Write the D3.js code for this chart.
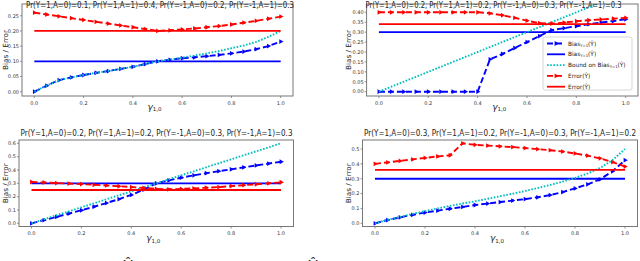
<!DOCTYPE html>
<html>
<head>
<meta charset="utf-8">
<script src="https://cdn.jsdelivr.net/npm/d3@7"></script>
<style>
  body { margin: 0; background: #fff; }
  svg { display: block; font-family: "DejaVu Sans", sans-serif; }
</style>
</head>
<body>
<svg id="chart" width="640" height="261"></svg>
<script>
// gamma_{1,0} grid
const gammas = [0, 0.05, 0.1, 0.15, 0.2, 0.25, 0.3, 0.35, 0.4, 0.45, 0.5,
                0.55, 0.6, 0.65, 0.7, 0.75, 0.8, 0.85, 0.9, 0.95, 1.0];

const titles = [
  "Pr(Y=1,A=0)=0.1, Pr(Y=1,A=1)=0.4, Pr(Y=-1,A=0)=0.2, Pr(Y=-1,A=1)=0.3",
  "Pr(Y=1,A=0)=0.2, Pr(Y=1,A=1)=0.2, Pr(Y=-1,A=0)=0.3, Pr(Y=-1,A=1)=0.3",
  "Pr(Y=1,A=0)=0.2, Pr(Y=1,A=1)=0.2, Pr(Y=-1,A=0)=0.3, Pr(Y=-1,A=1)=0.3",
  "Pr(Y=1,A=0)=0.3, Pr(Y=1,A=1)=0.2, Pr(Y=-1,A=0)=0.3, Pr(Y=-1,A=1)=0.2"
];

// top left
const tlBias  = [0, 0.020, 0.038, 0.047, 0.055, 0.062, 0.068, 0.075, 0.082, 0.091, 0.100,
                 0.105, 0.110, 0.113, 0.117, 0.121, 0.126, 0.132, 0.140, 0.150, 0.165];
const tlBound = [0, 0.020, 0.038, 0.047, 0.055, 0.062, 0.068, 0.075, 0.082, 0.091, 0.100,
                 0.106, 0.112, 0.119, 0.126, 0.134, 0.143, 0.152, 0.164, 0.180, 0.200];
const tlError = [0.260, 0.254, 0.248, 0.242, 0.236, 0.230, 0.224, 0.218, 0.212, 0.206, 0.200,
                 0.202, 0.205, 0.208, 0.212, 0.216, 0.221, 0.227, 0.233, 0.240, 0.247];
const tlBiasLevel = 0.10, tlErrorLevel = 0.20;

// top right
const trBias  = [0, 0, 0, 0, 0, 0, 0, 0, 0, 0.163, 0.19,
                 0.22, 0.25, 0.28, 0.31, 0.32, 0.33, 0.34, 0.348, 0.356, 0.365];
const trBound = [0, 0.025, 0.05, 0.075, 0.1, 0.125, 0.15, 0.175, 0.2, 0.225, 0.25,
                 0.275, 0.3, 0.325, 0.35, 0.375, 0.4, 0.425, 0.45, 0.475, 0.5];
const trError = [0.4, 0.4, 0.4, 0.4, 0.4, 0.4, 0.4, 0.4, 0.4, 0.395, 0.385,
                 0.372, 0.358, 0.345, 0.343, 0.348, 0.355, 0.36, 0.364, 0.368, 0.372];
const trBiasLevel = 0.30, trErrorLevel = 0.34;

// bottom left
const blBias  = [0, 0.024, 0.048, 0.073, 0.098, 0.124, 0.152, 0.181, 0.213, 0.252, 0.300,
                 0.322, 0.342, 0.360, 0.376, 0.391, 0.405, 0.420, 0.434, 0.448, 0.462];
const blBound = [0, 0.03, 0.06, 0.09, 0.12, 0.15, 0.18, 0.21, 0.24, 0.27, 0.3,
                 0.33, 0.36, 0.39, 0.42, 0.45, 0.48, 0.51, 0.54, 0.57, 0.6];
const blError = [0.310, 0.306, 0.302, 0.298, 0.294, 0.289, 0.284, 0.278, 0.272, 0.265, 0.258,
                 0.255, 0.258, 0.262, 0.267, 0.272, 0.279, 0.286, 0.293, 0.300, 0.308];
const blBiasLevel = 0.30, blErrorLevel = 0.25;

// bottom right
const brBias  = [0, 0.022, 0.040, 0.057, 0.072, 0.085, 0.098, 0.110, 0.123, 0.133, 0.143,
                 0.153, 0.163, 0.175, 0.190, 0.210, 0.235, 0.262, 0.296, 0.350, 0.425];
const brBound = [0, 0.022, 0.043, 0.063, 0.082, 0.100, 0.117, 0.133, 0.148, 0.165, 0.182,
                 0.199, 0.217, 0.237, 0.258, 0.280, 0.305, 0.335, 0.372, 0.425, 0.500];
const brError = [0.400, 0.410, 0.420, 0.430, 0.440, 0.450, 0.458, 0.538, 0.528, 0.523, 0.518,
                 0.513, 0.506, 0.499, 0.492, 0.483, 0.470, 0.455, 0.437, 0.412, 0.382];
const brBiasLevel = 0.30, brErrorLevel = 0.36;

const xTicks = [0, 0.2, 0.4, 0.6, 0.8, 1.0];
const tlYTicks = [0, 0.05, 0.10, 0.15, 0.20, 0.25];
const trYTicks = [0, 0.05, 0.10, 0.15, 0.20, 0.25, 0.30, 0.35, 0.40];
const blYTicks = [0, 0.1, 0.2, 0.3, 0.4, 0.5, 0.6];
const brYTicks = [0, 0.1, 0.2, 0.3, 0.4, 0.5];

const BLUE = "#0000ff", RED = "#ff0000", CYAN = "#00bfbf";

const svg = d3.select("#chart");

// layout of each panel (pixel frame + y domain)
var panels = [
  {x0: 22, x1: 293, y0: 4, y1: 96, yDom: [-0.0141, 0.2885], yTicks: tlYTicks, fmt: ".2f",
   bias: tlBias, bound: tlBound, error: tlError, biasLevel: tlBiasLevel, errorLevel: tlErrorLevel,
   title: titles[0], titleX: 160, titleY: 7.5, titleLen: 268, yLabX: 5, xLabY: 109.5, tickY: 105},
  {x0: 366.6, x1: 638, y0: 4, y1: 96, yDom: [-0.0217, 0.4418], yTicks: trYTicks, fmt: ".2f",
   bias: trBias, bound: trBound, error: trError, biasLevel: trBiasLevel, errorLevel: trErrorLevel,
   title: titles[1], titleX: 493.5, titleY: 7.5, titleLen: 256, yLabX: 348, xLabY: 109.5, tickY: 105, legend: true},
  {x0: 19, x1: 293.5, y0: 140, y1: 226.5, yDom: [-0.024, 0.625], yTicks: blYTicks, fmt: ".1f",
   bias: blBias, bound: blBound, error: blError, biasLevel: blBiasLevel, errorLevel: blErrorLevel,
   title: titles[2], titleX: 156.5, titleY: 136, titleLen: 272, yLabX: 5, xLabY: 241, tickY: 235},
  {x0: 362.5, x1: 637.5, y0: 140, y1: 226.5, yDom: [-0.0215, 0.5606], yTicks: brYTicks, fmt: ".1f",
   bias: brBias, bound: brBound, error: brError, biasLevel: brBiasLevel, errorLevel: brErrorLevel,
   title: titles[3], titleX: 500, titleY: 136, titleLen: 272, yLabX: 348, xLabY: 241, tickY: 235}
];

const tri = d3.symbol().type(d3.symbolTriangle).size(10);

panels.forEach(function(p, k) {
  var x = d3.scaleLinear().domain([-0.05, 1.05]).range([p.x0, p.x1]);
  var y = d3.scaleLinear().domain(p.yDom).range([p.y1, p.y0]);
  var g = svg.append("g");

  g.append("clipPath").attr("id", "clip" + k)
    .append("rect")
      .attr("x", p.x0).attr("y", p.y0)
      .attr("width", p.x1 - p.x0).attr("height", p.y1 - p.y0);

  var plot = g.append("g").attr("clip-path", "url(#clip" + k + ")");
  var line = d3.line().x((d, i) => x(gammas[i])).y(d => y(d));

  function dashedWithMarkers(vals, color) {
    plot.append("path").datum(vals)
      .attr("d", line)
      .attr("fill", "none").attr("stroke", color)
      .attr("stroke-width", 1.9).attr("stroke-dasharray", "6,3");
    plot.selectAll(null).data(vals).enter().append("path")
      .attr("d", tri)
      .attr("transform", (d, i) => `translate(${x(gammas[i])},${y(d)}) rotate(90)`)
      .attr("fill", color);
  }
  function level(v, color) {
    plot.append("line")
      .attr("x1", x(0)).attr("x2", x(1))
      .attr("y1", y(v)).attr("y2", y(v))
      .attr("stroke", color).attr("stroke-width", 1.8);
  }

  dashedWithMarkers(p.bias, BLUE);
  level(p.biasLevel, BLUE);
  plot.append("path").datum(p.bound)
    .attr("d", line)
    .attr("fill", "none").attr("stroke", CYAN)
    .attr("stroke-width", 1.9).attr("stroke-dasharray", "1.6,1.6");
  dashedWithMarkers(p.error, RED);
  level(p.errorLevel, RED);

  // frame
  g.append("rect")
    .attr("x", p.x0).attr("y", p.y0)
    .attr("width", p.x1 - p.x0).attr("height", p.y1 - p.y0)
    .attr("fill", "none").attr("stroke", "#777").attr("stroke-width", 1);

  // x ticks
  xTicks.forEach(function(t) {
    g.append("line")
      .attr("x1", x(t)).attr("x2", x(t))
      .attr("y1", p.y1).attr("y2", p.y1 + 2)
      .attr("stroke", "#777").attr("stroke-width", 0.8);
    g.append("text")
      .attr("x", x(t)).attr("y", p.tickY)
      .attr("text-anchor", "middle")
      .attr("font-size", 5).attr("fill", "#333")
      .text(d3.format(".1f")(t));
  });
  // y ticks
  p.yTicks.forEach(function(t) {
    g.append("line")
      .attr("x1", p.x0 - 2).attr("x2", p.x0)
      .attr("y1", y(t)).attr("y2", y(t))
      .attr("stroke", "#777").attr("stroke-width", 0.8);
    g.append("text")
      .attr("x", p.x0 - 3).attr("y", y(t) + 1.8)
      .attr("text-anchor", "end")
      .attr("font-size", 5).attr("fill", "#333")
      .text(d3.format(p.fmt)(t));
  });

  // title
  g.append("text")
    .attr("x", p.titleX).attr("y", p.titleY)
    .attr("text-anchor", "middle")
    .attr("font-size", 8.5).attr("fill", "#222")
    .attr("textLength", p.titleLen).attr("lengthAdjust", "spacingAndGlyphs")
    .text(p.title);

  // y label
  g.append("text")
    .attr("transform", `translate(${p.yLabX + 2.5},${(p.y0 + p.y1) / 2}) rotate(-90)`)
    .attr("text-anchor", "middle")
    .attr("font-size", 7).attr("fill", "#222")
    .attr("textLength", 40).attr("lengthAdjust", "spacingAndGlyphs")
    .text("Bias / Error");

  // x label: gamma_{1,0}
  var xl = g.append("text")
    .attr("x", (x(0) + x(1)) / 2 - 3).attr("y", p.xLabY)
    .attr("text-anchor", "middle")
    .attr("fill", "#222");
  xl.append("tspan").attr("font-size", 9).attr("font-style", "italic").text("γ");
  xl.append("tspan").attr("font-size", 5.5).attr("dy", 1.5).text("1,0");

  if (p.legend) {
    var lx = 543, ly = 37, lw = 89, lh = 53;
    var lg = g.append("g");
    lg.append("rect")
      .attr("x", lx).attr("y", ly).attr("width", lw).attr("height", lh)
      .attr("rx", 2).attr("fill", "#fff").attr("fill-opacity", 0.85)
      .attr("stroke", "#ccc").attr("stroke-width", 0.8);
    var items = [
      {color: BLUE, dash: "6,3", marker: true, pre: "Bias", sub: "Y=1", post: "(Ŷ)"},
      {color: BLUE, dash: null, marker: false, pre: "Bias", sub: "Y=1", post: "(Ŷ)"},
      {color: CYAN, dash: "1.6,1.6", marker: false, pre: "Bound on Bias", sub: "Y=1", post: "(Ŷ)"},
      {color: RED, dash: "6,3", marker: true, pre: "Error(Ŷ)", sub: "", post: ""},
      {color: RED, dash: null, marker: false, pre: "Error(Ŷ)", sub: "", post: ""}
    ];
    items.forEach(function(it, i) {
      var yy = 43.5 + i * 10.8;
      lg.append("line")
        .attr("x1", 547).attr("x2", 565).attr("y1", yy).attr("y2", yy)
        .attr("stroke", it.color).attr("stroke-width", 1.8)
        .attr("stroke-dasharray", it.dash);
      if (it.marker) {
        lg.append("path").attr("d", tri)
          .attr("transform", `translate(556,${yy}) rotate(90)`)
          .attr("fill", it.color);
      }
      var t = lg.append("text")
        .attr("x", 568).attr("y", yy + 2)
        .attr("font-size", 5.8).attr("fill", "#222");
      t.append("tspan").text(it.pre);
      if (it.sub) {
        t.append("tspan").attr("font-size", 3.8).attr("dy", 1).text(it.sub);
        t.append("tspan").attr("dy", -1).text(it.post);
      }
    });
  }
});

// cut-off caption below the figure: only the wide hats remain visible
[128, 313].forEach(function(cx) {
  svg.append("text")
    .attr("x", cx).attr("y", 272)
    .attr("text-anchor", "middle")
    .attr("font-size", 15).attr("fill", "#333")
    .text("Ŷ");
});
</script>
</body>
</html>
